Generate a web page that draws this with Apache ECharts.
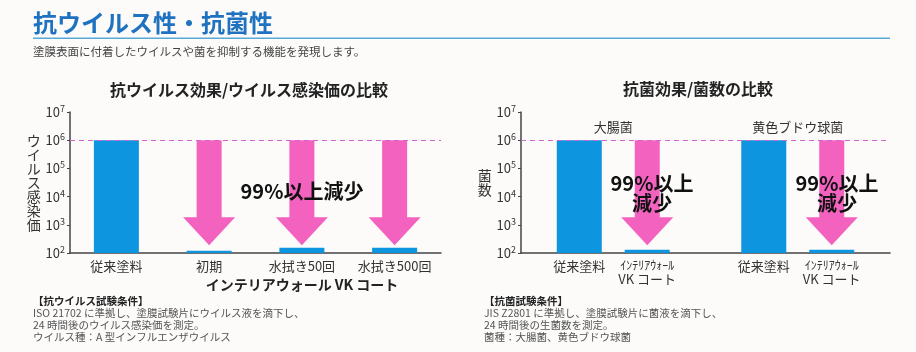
<!DOCTYPE html>
<html>
<head>
<meta charset="utf-8">
<script src="https://cdn.jsdelivr.net/npm/echarts@6/dist/echarts.min.js"></script>
<style>
  html, body { margin: 0; padding: 0; background: #fcfbfa; }
  #chart { width: 916px; height: 352px; }
</style>
</head>
<body>
<div id="chart"></div>
<script>
// --- data ---
const virusCategories = ['従来塗料', '初期', '水拭き50回', '水拭き500回'];
const virusValues = [1e6, 120, 155, 155];
const virusArrowTips = [null, 190, 190, 190];

const bacteriaCategories = ['大腸菌', '黄色ブドウ球菌'];
const conventionalValues = [1e6, 1e6];
const vkValues = [130, 130];
const bacteriaArrowTips = [190, 190];

const baselineValue = 1e6;
const yMin = 100;
const yMax = 1e7;

const BLUE = '#0d95df';
const PINK = '#f462c0';
const DASH = '#cc66cc';
const AXIS = '#444';
const FONT = "'Noto Sans CJK JP', sans-serif";

const arrowData = (tips) => tips
  .map((tip, i) => (tip == null ? null : [i, baselineValue, tip]))
  .filter(Boolean);

// arrow drawn from baseline down to tip, offset in px from category center
const arrowRenderer = (offset) => (params, api) => {
  const x = api.value(0);
  const top = api.coord([x, api.value(1)]);
  const tip = api.coord([x, api.value(2)]);
  const cx = top[0] + offset;
  const headY = tip[1] - 28;
  return {
    type: 'polygon',
    shape: {
      points: [
        [cx - 12.5, top[1]], [cx + 12.5, top[1]], [cx + 12.5, headY],
        [cx + 26, headY], [cx, tip[1]], [cx - 26, headY], [cx - 12.5, headY],
      ],
    },
    style: { fill: PINK },
  };
};

const logAxis = (gridIndex, name, nameGap) => ({
  gridIndex,
  type: 'log',
  logBase: 10,
  min: yMin,
  max: yMax,
  name,
  nameLocation: 'middle',
  nameRotate: 0,
  nameGap,
  nameTextStyle: { color: '#333', fontSize: 14, lineHeight: 14, fontFamily: FONT },
  axisLine: { show: true, lineStyle: { color: AXIS, width: 1.5 } },
  axisTick: { show: true, length: 3, lineStyle: { color: AXIS } },
  splitLine: { show: false },
  axisLabel: {
    margin: 5,
    formatter: (v) => `{b|10}{s|${Math.round(Math.log10(v))}}`,
    rich: {
      b: { fontSize: 13, color: '#333', fontFamily: FONT, lineHeight: 16 },
      s: { fontSize: 9, color: '#333', fontFamily: FONT, verticalAlign: 'top', lineHeight: 16 },
    },
  },
});

const dashLine = {
  silent: true,
  symbol: 'none',
  label: { show: false },
  lineStyle: { color: DASH, type: [5, 4], width: 1.2 },
  data: [{ yAxis: baselineValue }],
};

const text = (str, x, y, font, fill, align = 'left') => ({
  type: 'text',
  x,
  y,
  style: { text: str, font, fill, align, verticalAlign: 'middle' },
});

const chart = echarts.init(document.getElementById('chart'));

chart.setOption({
  backgroundColor: '#fcfbfa',
  animation: false,
  textStyle: { fontFamily: FONT },
  grid: [
    { left: 70, right: 475, top: 112, bottom: 99 },
    { left: 521, right: 26, top: 112, bottom: 99 },
  ],
  xAxis: [
    {
      gridIndex: 0,
      type: 'category',
      data: virusCategories,
      axisLine: { lineStyle: { color: AXIS, width: 1.5 } },
      axisTick: { show: false },
      axisLabel: { color: '#333', fontSize: 13, margin: 7, interval: 0 },
    },
    {
      gridIndex: 1,
      type: 'category',
      data: bacteriaCategories,
      axisLine: { lineStyle: { color: AXIS, width: 1.5 } },
      axisTick: { show: false },
      axisLabel: { show: false },
    },
    {
      gridIndex: 1,
      type: 'category',
      data: bacteriaCategories,
      position: 'top',
      axisLine: { show: false },
      axisTick: { show: false },
      axisLabel: { inside: true, margin: 9, color: '#333', fontSize: 13, interval: 0 },
    },
  ],
  yAxis: [
    logAxis(0, 'ウ\nイ\nル\nス\n感\n染\n価', 27),
    logAxis(1, '菌\n数', 29),
  ],
  series: [
    {
      type: 'bar',
      xAxisIndex: 0,
      yAxisIndex: 0,
      data: virusValues,
      barWidth: 45,
      itemStyle: { color: BLUE },
      markLine: dashLine,
    },
    {
      type: 'custom',
      xAxisIndex: 0,
      yAxisIndex: 0,
      renderItem: arrowRenderer(0),
      data: arrowData(virusArrowTips),
      z: 3,
    },
    {
      type: 'bar',
      name: '従来塗料',
      xAxisIndex: 1,
      yAxisIndex: 1,
      data: conventionalValues,
      barWidth: 45,
      barGap: '51%',
      itemStyle: { color: BLUE },
      label: {
        show: true,
        position: 'bottom',
        distance: 7,
        formatter: '従来塗料',
        color: '#333',
        fontSize: 13,
      },
      markLine: dashLine,
    },
    {
      type: 'bar',
      name: 'インテリアウォール VK コート',
      xAxisIndex: 1,
      yAxisIndex: 1,
      data: vkValues,
      barWidth: 45,
      barGap: '51%',
      itemStyle: { color: BLUE },
      label: {
        show: true,
        position: 'bottom',
        distance: 5,
        formatter: '{a|ｲﾝﾃﾘｱｳｫｰﾙ}\n{b|VK コート}',
        rich: {
          a: { fontSize: 12, color: '#333', lineHeight: 14 },
          b: { fontSize: 13, color: '#333', lineHeight: 15 },
        },
      },
    },
    {
      type: 'custom',
      xAxisIndex: 1,
      yAxisIndex: 1,
      renderItem: arrowRenderer(34),
      data: arrowData(bacteriaArrowTips),
      z: 3,
    },
  ],
  graphic: [
    text('抗ウイルス性・抗菌性', 33, 23, `bold 24px ${FONT}`, '#1f72bf'),
    { type: 'rect', shape: { x: 33, y: 37.5, width: 857, height: 1.5 }, style: { fill: '#58aad6' } },
    text('塗膜表面に付着したウイルスや菌を抑制する機能を発現します。', 33, 52, `11.5px ${FONT}`, '#444'),

    text('抗ウイルス効果/ウイルス感染価の比較', 249, 90, `bold 16px ${FONT}`, '#222', 'center'),
    text('抗菌効果/菌数の比較', 698, 89, `bold 16px ${FONT}`, '#222', 'center'),

    { type: 'text', z: 10, x: 302, y: 191, style: { text: '99%以上減少', font: `bold 20px ${FONT}`, fill: '#111', align: 'center', verticalAlign: 'middle' } },
    { type: 'text', z: 10, x: 652, y: 193, style: { text: '99%以上\n減少', font: `bold 20px ${FONT}`, lineHeight: 20, fill: '#111', align: 'center', verticalAlign: 'middle' } },
    { type: 'text', z: 10, x: 837, y: 193, style: { text: '99%以上\n減少', font: `bold 20px ${FONT}`, lineHeight: 20, fill: '#111', align: 'center', verticalAlign: 'middle' } },

    text('インテリアウォール VK コート', 302, 285, `bold 14px ${FONT}`, '#222', 'center'),

    text('【抗ウイルス試験条件】', 33, 301, `bold 10.5px ${FONT}`, '#222'),
    text('ISO 21702 に準拠し、塗膜試験片にウイルス液を滴下し、', 33, 313, `10.5px ${FONT}`, '#555'),
    text('24 時間後のウイルス感染価を測定。', 33, 325, `10.5px ${FONT}`, '#555'),
    text('ウイルス種：A 型インフルエンザウイルス', 33, 337, `10.5px ${FONT}`, '#555'),

    text('【抗菌試験条件】', 484, 301, `bold 10.5px ${FONT}`, '#222'),
    text('JIS Z2801 に準拠し、塗膜試験片に菌液を滴下し、', 484, 313, `10.5px ${FONT}`, '#555'),
    text('24 時間後の生菌数を測定。', 484, 325, `10.5px ${FONT}`, '#555'),
    text('菌種：大腸菌、黄色ブドウ球菌', 484, 337, `10.5px ${FONT}`, '#555'),
  ],
});

window.addEventListener('resize', () => chart.resize());
</script>
</body>
</html>
